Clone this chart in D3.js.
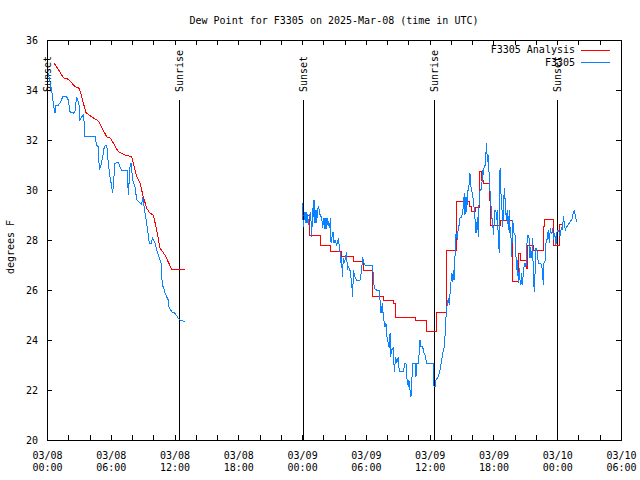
<!DOCTYPE html>
<html><head><meta charset="utf-8">
<script src="https://cdn.jsdelivr.net/npm/d3@7"></script>
<style>
html,body{margin:0;padding:0;background:#fff;}
text{font-family:"DejaVu Sans Mono","Liberation Mono",monospace;font-size:10px;fill:#000;}
</style></head>
<body>
<svg id="chart" width="640" height="480"></svg>
<script>
// ---- data (hours since 2025-03-08 00:00 UTC, degrees F) ----
const titleText = "Dew Point for F3305 on 2025-Mar-08 (time in UTC)";
const yLabel = "degrees F";
const seriesNames = ["F3305 Analysis", "F3305"];
const seriesColors = ["#ff0000", "#0a82ff"];
const xTickHours = [0,2,4,6,8,10,12,14,16,18,20,22,24,26,28,30,32,34,36,38,40,42,44,46,48,50,52,54];
const xLabelHours = [0,6,12,18,24,30,36,42,48,54];
const xLabelDates = ["03/08","03/08","03/08","03/08","03/09","03/09","03/09","03/09","03/10","03/10"];
const xLabelTimes = ["00:00","06:00","12:00","18:00","00:00","06:00","12:00","18:00","00:00","06:00"];
const yTicks = [20,22,24,26,28,30,32,34,36];
const sunHours = [0, 12.42, 24.08, 36.41, 48.0];
const sunLabels = ["Sunset","Sunrise","Sunset","Sunrise","Sunset"];

// Analysis, night 1 (joined points)
const analysisDay1 = [[0.66,35.07],[1.06,34.83],[1.53,34.49],[2.00,34.43],[2.32,34.29],[2.63,34.13],[3.04,34.07],[3.26,33.73],[3.67,33.09],[4.20,32.93],[4.83,32.76],[5.14,32.51],[5.62,32.13],[5.99,32.07],[6.40,31.76],[6.71,31.53],[7.34,31.40],[7.97,31.33],[8.44,30.53],[8.75,30.27],[9.06,29.73],[9.38,29.27],[9.69,29.07],[10.00,29.0],[10.32,28.4],[10.63,27.67],[11.10,27.4],[11.73,26.83],[12.98,26.8]];
// Analysis, day 2 (stepped)
const analysisDay2 = [[24.02,29.0],[24.68,28.2],[25.75,27.8],[26.69,27.56],[27.72,27.33],[28.79,27.13],[29.73,26.8],[30.64,25.76],[31.70,25.6],[32.61,25.47],[32.80,24.89],[34.71,24.8],[35.72,24.33],[36.66,25.09],[37.60,27.6],[38.54,29.53],[39.73,29.33],[39.95,29.13],[40.33,29.31],[40.73,30.73],[40.86,30.4],[41.05,30.27],[41.64,29.6],[41.71,28.6],[42.62,28.77],[43.75,26.33],[44.37,27.47],[44.50,27.2],[45.12,26.87],[45.19,27.8],[45.81,27.6],[46.72,28.53],[46.85,28.83],[47.63,27.8],[48.19,28.63],[48.48,28.63]];
// Observations
const obsDay1 = [[0.12,34.67],[0.44,34.0],[0.59,33.47],[0.75,33.07],[0.85,33.4],[1.06,33.4],[1.29,33.53],[1.48,33.73],[1.85,33.73],[2.0,33.6],[2.16,33.13],[2.47,33.07],[2.63,33.13],[2.79,33.73],[2.94,33.53],[3.04,33.33],[3.10,32.8],[3.26,32.93],[3.42,33.0],[3.51,32.67],[3.57,32.13],[4.52,32.13],[4.67,31.8],[4.83,31.73],[4.92,30.8],[5.08,31.0],[5.24,31.33],[5.39,31.73],[5.62,31.8],[5.77,31.07],[5.93,30.53],[6.09,30.13],[6.18,29.87],[6.24,30.2],[6.40,31.07],[6.71,31.11],[6.87,30.93],[7.03,30.8],[7.55,30.8],[7.65,29.8],[7.81,30.93],[7.90,31.09],[8.06,30.4],[8.28,30.13],[8.44,29.6],[8.75,29.47],[8.91,29.4],[9.0,29.73],[9.22,29.07],[9.38,28.67],[9.53,28.2],[9.62,27.87],[9.78,27.84],[9.94,28.07],[10.16,27.87],[10.32,27.6],[10.57,27.27],[10.72,27.13],[10.85,26.2],[11.0,26.07],[11.10,25.87],[11.41,25.6],[11.47,25.33],[11.73,25.13],[12.04,25.07],[12.35,24.87],[12.51,24.8],[12.98,24.73]];
const obsDay2 = [[24.02,29.47],[24.11,28.53],[24.27,29.13],[24.37,28.67],[24.43,29.13],[24.58,28.6],[24.68,28.93],[24.80,29.13],[24.90,28.13],[24.99,29.27],[25.06,28.93],[25.12,29.6],[25.21,28.67],[25.31,29.2],[25.37,28.67],[25.46,29.27],[25.56,29.33],[25.62,29.13],[25.74,28.93],[25.84,28.93],[25.93,28.47],[26.06,28.87],[26.15,28.43],[26.25,28.87],[26.31,28.43],[26.40,28.87],[26.56,28.47],[26.69,28.87],[26.72,27.87],[26.81,28.13],[26.91,28.33],[27.00,27.87],[27.09,28.0],[27.25,27.8],[27.41,28.07],[27.50,27.73],[27.56,27.53],[27.66,27.07],[27.72,27.33],[27.78,26.53],[27.88,27.27],[27.97,27.07],[28.07,27.27],[28.19,27.53],[28.25,26.8],[28.35,26.93],[28.50,26.8],[28.66,26.27],[28.76,25.73],[28.82,26.8],[28.97,26.53],[29.13,26.4],[29.45,26.4],[29.60,26.8],[29.70,27.33],[29.76,27.13],[29.92,27.0],[30.64,27.0],[30.70,26.47],[30.79,26.07],[31.01,26.0],[31.26,26.0],[31.33,25.6],[31.42,25.07],[31.55,25.47],[31.64,24.93],[31.80,24.53],[31.89,24.67],[31.95,24.2],[32.11,23.87],[32.20,23.67],[32.27,24.27],[32.33,23.33],[32.42,23.6],[32.58,23.67],[32.67,22.73],[32.80,23.33],[32.89,23.07],[33.05,23.33],[33.14,22.73],[33.52,22.73],[33.68,23.07],[33.77,23.07],[33.84,22.53],[33.93,22.27],[33.99,22.13],[34.05,22.4],[34.15,22.0],[34.24,21.73],[34.31,22.27],[34.40,23.07],[34.62,23.07],[34.71,22.53],[34.78,23.07],[34.93,23.07],[35.03,23.53],[35.09,24.0],[35.18,23.73],[35.34,23.73],[35.47,23.47],[35.56,23.4],[35.72,23.07],[36.34,23.07],[36.41,22.13],[36.50,22.13],[36.59,22.4],[36.81,22.53],[36.97,22.8],[37.13,23.2],[37.22,23.47],[37.35,23.67],[37.44,24.13],[37.54,24.93],[37.66,25.47],[37.76,25.67],[37.85,25.4],[37.91,25.8],[38.07,26.67],[38.13,26.33],[38.23,26.8],[38.29,26.4],[38.38,27.33],[38.48,28.27],[38.60,28.0],[38.70,28.53],[38.79,28.6],[38.85,28.87],[39.01,28.91],[39.17,29.33],[39.26,29.87],[39.32,29.0],[39.42,29.73],[39.48,29.13],[39.57,29.87],[39.64,30.07],[39.73,30.27],[39.79,30.67],[39.86,30.2],[39.95,30.0],[40.04,29.8],[40.17,29.33],[40.26,28.87],[40.36,28.27],[40.42,28.4],[40.48,28.93],[40.58,28.13],[40.67,29.93],[40.80,30.0],[40.89,30.07],[40.99,30.8],[41.05,30.6],[41.14,31.0],[41.20,30.93],[41.27,31.33],[41.36,31.87],[41.42,31.13],[41.52,31.4],[41.58,30.73],[41.68,29.93],[41.74,29.6],[41.83,28.93],[41.93,28.73],[41.99,28.2],[42.05,28.53],[42.15,29.2],[42.24,29.13],[42.30,28.8],[42.37,29.2],[42.46,28.0],[42.55,27.47],[42.62,30.87],[42.68,30.0],[42.77,29.6],[42.87,28.53],[42.93,29.07],[43.02,30.07],[43.12,29.47],[43.21,28.8],[43.31,29.2],[43.40,28.4],[43.49,29.2],[43.56,28.27],[43.62,28.53],[43.71,27.33],[43.81,28.8],[43.93,28.27],[44.03,28.2],[44.12,27.33],[44.18,26.8],[44.25,27.2],[44.34,26.27],[44.43,26.87],[44.50,26.4],[44.59,26.2],[44.65,26.67],[44.75,26.2],[44.81,26.8],[44.97,27.07],[45.06,26.93],[45.19,28.2],[45.28,28.2],[45.38,28.0],[45.44,27.27],[45.50,27.73],[45.60,27.27],[45.69,28.07],[45.75,26.4],[45.81,26.13],[45.88,25.93],[45.94,27.33],[46.00,27.67],[46.13,27.53],[46.22,27.07],[46.38,27.07],[46.54,27.0],[46.63,26.67],[46.69,26.2],[46.75,27.07],[46.85,27.13],[46.94,27.87],[47.07,28.07],[47.16,28.4],[47.26,27.87],[47.35,28.47],[47.44,28.27],[47.51,28.33],[47.57,28.47],[47.66,28.0],[47.76,28.27],[47.88,27.8],[47.95,28.27],[48.01,28.4],[48.13,28.4],[48.26,28.16],[48.42,28.53],[48.51,28.4],[48.57,28.96],[48.67,28.67],[48.76,28.4],[48.89,28.53],[49.04,28.6],[49.20,28.73],[49.36,28.8],[49.51,29.07],[49.61,29.2],[49.70,28.96],[49.83,28.73]];

// ---- drawing ----
const svg = d3.select("#chart");
const L = 47, R = 621, T = 40, B = 440;
const x = d3.scaleLinear().domain([0, 54]).range([L, R]);
const y = d3.scaleLinear().domain([20, 36]).range([B, T]);

svg.append("rect").attr("width", 640).attr("height", 480).attr("fill", "#fff");

// title
svg.append("text").attr("x", (L + R) / 2).attr("y", 24).attr("text-anchor", "middle").text(titleText);
// y label
svg.append("text").attr("transform", "translate(14,247) rotate(-90)").attr("text-anchor", "middle").text(yLabel);

// axes
const fmtNone = () => "";
const gBottom = svg.append("g").attr("transform", `translate(0,${B})`)
  .call(d3.axisBottom(x).tickValues(xTickHours).tickSizeInner(-5).tickSizeOuter(0).tickFormat(fmtNone));
const gTop = svg.append("g").attr("transform", `translate(0,${T})`)
  .call(d3.axisTop(x).tickValues(xTickHours).tickSizeInner(-5).tickSizeOuter(0).tickFormat(fmtNone));
const gLeft = svg.append("g").attr("transform", `translate(${L},0)`)
  .call(d3.axisLeft(y).tickValues(yTicks).tickSizeInner(-5).tickSizeOuter(0).tickPadding(9).tickFormat(d3.format("d")));
const gRight = svg.append("g").attr("transform", `translate(${R},0)`)
  .call(d3.axisRight(y).tickValues(yTicks).tickSizeInner(-5).tickSizeOuter(0).tickFormat(fmtNone));
[gBottom, gTop, gLeft, gRight].forEach(g => {
  g.select(".domain").remove();
  g.selectAll("line").attr("stroke", "#000").attr("shape-rendering", "crispEdges");
  g.attr("font-family", null).attr("font-size", null);
});

// two-line x labels
const xl = svg.append("g");
xLabelHours.forEach((h, i) => {
  const t = xl.append("text").attr("text-anchor", "middle").attr("x", x(h) + 0.5);
  t.append("tspan").attr("x", x(h) + 0.5).attr("y", 459).text(xLabelDates[i]);
  t.append("tspan").attr("x", x(h) + 0.5).attr("y", 471).text(xLabelTimes[i]);
});

// sun lines
const sun = svg.append("g");
sunHours.forEach((h, i) => {
  const px = Math.round(x(h)) + 0.5;
  sun.append("line").attr("x1", px).attr("x2", px).attr("y1", 100).attr("y2", B)
    .attr("stroke", "#000").attr("stroke-width", 1).attr("shape-rendering", "crispEdges");
  sun.append("text").attr("transform", `translate(${px},92) rotate(-90)`).attr("dy", "0.35em")
    .attr("text-anchor", "start").text(sunLabels[i]);
});

// frame
svg.append("rect").attr("x", L + 0.5).attr("y", T + 0.5).attr("width", R - L).attr("height", B - T)
  .attr("fill", "none").attr("stroke", "#000").attr("shape-rendering", "crispEdges");

// series
const lineLin = d3.line().x(d => x(d[0])).y(d => y(d[1]));
const lineStep = d3.line().x(d => x(d[0])).y(d => y(d[1])).curve(d3.curveStepAfter);
const plot = svg.append("g").attr("fill", "none").attr("stroke-width", 1).attr("shape-rendering", "crispEdges");
plot.append("path").attr("d", lineLin(analysisDay1)).attr("stroke", seriesColors[0]);
plot.append("path").attr("d", lineStep(analysisDay2)).attr("stroke", seriesColors[0]);
plot.append("path").attr("d", lineLin(obsDay1)).attr("stroke", seriesColors[1]);
plot.append("path").attr("d", lineLin(obsDay2)).attr("stroke", seriesColors[1]);

// legend
const lg = svg.append("g");
seriesNames.forEach((n, i) => {
  const yy = 49.5 + i * 12.5;
  lg.append("text").attr("x", 575).attr("y", yy + 3.5).attr("text-anchor", "end").text(n);
  lg.append("line").attr("x1", 581).attr("x2", 610).attr("y1", Math.round(yy) + 0.5).attr("y2", Math.round(yy) + 0.5)
    .attr("stroke", seriesColors[i]).attr("stroke-width", 1).attr("shape-rendering", "crispEdges");
});
</script>
</body></html>
